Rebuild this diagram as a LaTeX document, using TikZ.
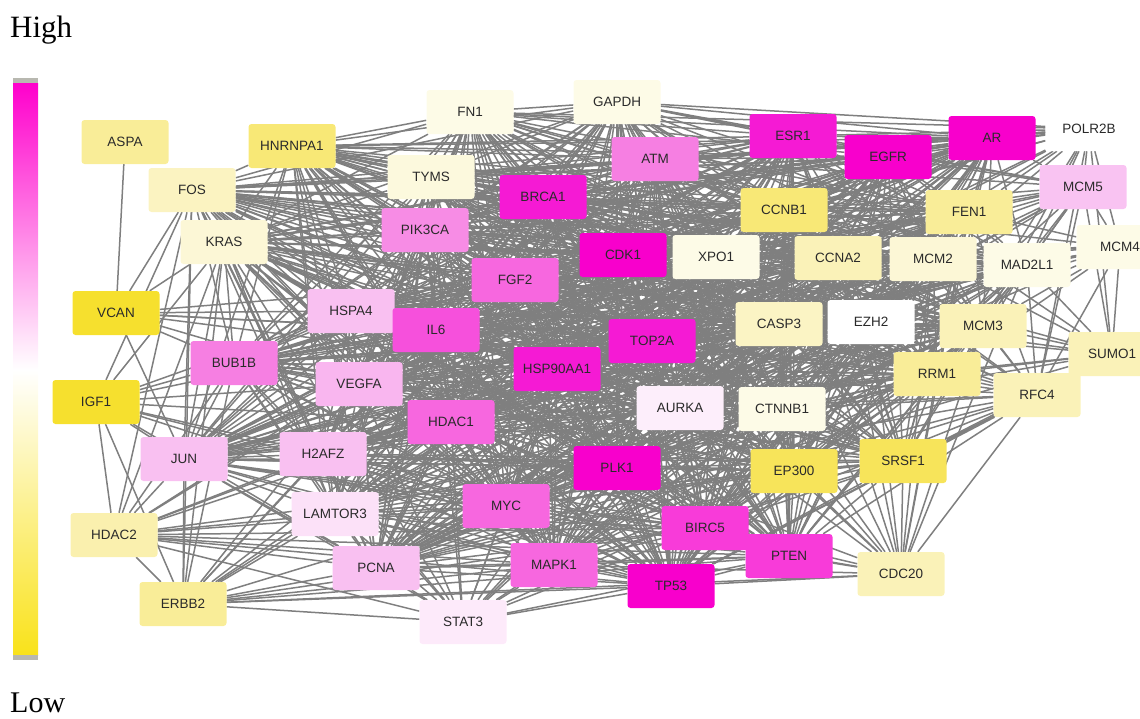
\documentclass[tikz,border=0pt]{standalone}
\usepackage{fontspec}
\setmainfont{Liberation Serif}
\newfontfamily\nf{Liberation Sans}
\usetikzlibrary{backgrounds}
\definecolor{edgec}{HTML}{7F7F7F}
\definecolor{txt}{HTML}{2A2A2A}
\definecolor{m1}{HTML}{F800CC}
\definecolor{m2}{HTML}{F51AD4}
\definecolor{m3}{HTML}{F83BD9}
\definecolor{m4}{HTML}{F650DC}
\definecolor{m5}{HTML}{F767DF}
\definecolor{m6}{HTML}{F67FE2}
\definecolor{p1}{HTML}{F9C0F1}
\definecolor{p2}{HTML}{FCE1F8}
\definecolor{p3}{HTML}{FDEEFB}
\definecolor{w0}{HTML}{FFFFFF}
\definecolor{v1}{HTML}{FDFBE7}
\definecolor{v2}{HTML}{FCF7D6}
\definecolor{y1}{HTML}{FAF2B8}
\definecolor{y2}{HTML}{F9ED98}
\definecolor{y3}{HTML}{F8E876}
\definecolor{y4}{HTML}{F7E45A}
\definecolor{y5}{HTML}{F6E02E}
\definecolor{cbmag}{HTML}{FF00CC}
\definecolor{cbyel}{HTML}{F9E21A}
\definecolor{cbcap}{HTML}{B8B8B0}
\begin{document}
\begin{tikzpicture}[x=1pt,y=-1pt,
  gn/.style={rounded corners=3pt, minimum width=87pt, minimum height=44pt, inner sep=0pt,
    text=txt, font=\nf\fontsize{13.5}{14}\selectfont},
  edge/.style={draw=edgec, line width=1.5pt}]
\useasboundingbox (0,0) rectangle (1140,718);
% labels and colour bar
\node[anchor=base west, inner sep=0pt, font=\fontsize{31}{31}\selectfont] (high) at (10,37) {High};
\node[anchor=base west, inner sep=0pt, font=\fontsize{30}{30}\selectfont] (low) at (10,712) {Low};
\fill[cbcap] (13,78) rectangle (38,83);
\shade[top color=cbmag, bottom color=white] (13,83) rectangle (38,370);
\shade[top color=white, bottom color=cbyel] (13,370) rectangle (38,655);
\fill[cbcap] (13,655) rectangle (38,660);
% nodes
\node[gn, fill=y2] (ASPA) at (125,142) {ASPA};
\node[gn, fill=y3] (HNRNPA1) at (292,146) {HNRNPA1};
\node[gn, fill=y1!70!v2] (FOS) at (192,190) {FOS};
\node[gn, fill=v1] (FN1) at (470,112) {FN1};
\node[gn, fill=v1] (GAPDH) at (617,102) {GAPDH};
\node[gn, fill=v2!60!v1] (TYMS) at (431,177) {TYMS};
\node[gn, fill=m6] (ATM) at (655,159) {ATM};
\node[gn, fill=m2] (ESR1) at (793,136) {ESR1};
\node[gn, fill=m1] (EGFR) at (888,157) {EGFR};
\node[gn, fill=m1] (AR) at (992,138) {AR};
\node[gn, fill=w0] (POLR2B) at (1089,129) {POLR2B};
\node[gn, fill=p1!90!p2] (MCM5) at (1083,187) {MCM5};
\node[gn, fill=m2] (BRCA1) at (543,197) {BRCA1};
\node[gn, fill=m6!80!p1] (PIK3CA) at (425,230) {PIK3CA};
\node[gn, fill=v2] (KRAS) at (224,242) {KRAS};
\node[gn, fill=y3] (CCNB1) at (784,210) {CCNB1};
\node[gn, fill=y2] (FEN1) at (969,212) {FEN1};
\node[gn, fill=m1] (CDK1) at (623,255) {CDK1};
\node[gn, fill=v1] (XPO1) at (716,257) {XPO1};
\node[gn, fill=y1] (CCNA2) at (838,258) {CCNA2};
\node[gn, fill=v2] (MCM2) at (933,259) {MCM2};
\node[gn, fill=v1] (MAD2L1) at (1027,265) {MAD2L1};
\node[gn, fill=v1] (MCM4) at (1120,247) {MCM4};
\node[gn, fill=m5] (FGF2) at (515,280) {FGF2};
\node[gn, fill=y5] (VCAN) at (116,313) {VCAN};
\node[gn, fill=p1] (HSPA4) at (351,311) {HSPA4};
\node[gn, fill=m4] (IL6) at (436,330) {IL6};
\node[gn, fill=m2] (TOP2A) at (652,341) {TOP2A};
\node[gn, fill=y1!60!v2] (CASP3) at (779,324) {CASP3};
\node[gn, fill=w0] (EZH2) at (871,322) {EZH2};
\node[gn, fill=y1] (MCM3) at (983,326) {MCM3};
\node[gn, fill=y1] (SUMO1) at (1112,354) {SUMO1};
\node[gn, fill=m6] (BUB1B) at (234,363) {BUB1B};
\node[gn, fill=p1!85!m6] (VEGFA) at (359,384) {VEGFA};
\node[gn, fill=m2] (HSP90AA1) at (557,369) {HSP90AA1};
\node[gn, fill=y2] (RRM1) at (937,374) {RRM1};
\node[gn, fill=y1] (RFC4) at (1037,395) {RFC4};
\node[gn, fill=y5] (IGF1) at (96,402) {IGF1};
\node[gn, fill=p3] (AURKA) at (680,408) {AURKA};
\node[gn, fill=v1] (CTNNB1) at (782,409) {CTNNB1};
\node[gn, fill=m5] (HDAC1) at (451,422) {HDAC1};
\node[gn, fill=p1] (JUN) at (184,459) {JUN};
\node[gn, fill=p1] (H2AFZ) at (323,454) {H2AFZ};
\node[gn, fill=m1] (PLK1) at (617,468) {PLK1};
\node[gn, fill=y4] (EP300) at (794,471) {EP300};
\node[gn, fill=y4] (SRSF1) at (903,461) {SRSF1};
\node[gn, fill=m5] (MYC) at (506,506) {MYC};
\node[gn, fill=p2] (LAMTOR3) at (335,514) {LAMTOR3};
\node[gn, fill=y1!70!y2] (HDAC2) at (114,535) {HDAC2};
\node[gn, fill=m3] (BIRC5) at (705,528) {BIRC5};
\node[gn, fill=p1] (PCNA) at (376,568) {PCNA};
\node[gn, fill=m5] (MAPK1) at (554,565) {MAPK1};
\node[gn, fill=m3] (PTEN) at (789,556) {PTEN};
\node[gn, fill=y1] (CDC20) at (901,574) {CDC20};
\node[gn, fill=m1] (TP53) at (671,586) {TP53};
\node[gn, fill=y2] (ERBB2) at (183,604) {ERBB2};
\node[gn, fill=p3!70!p2] (STAT3) at (463,622) {STAT3};
% edges
\def\corelist{FN1,GAPDH,TYMS,ATM,ESR1,EGFR,AR,BRCA1,PIK3CA,CCNB1,FEN1,CDK1,XPO1,CCNA2,MCM2,MAD2L1,FGF2,HSPA4,IL6,TOP2A,CASP3,EZH2,MCM3,BUB1B,VEGFA,HSP90AA1,RRM1,AURKA,CTNNB1,HDAC1,H2AFZ,PLK1,EP300,SRSF1,MYC,LAMTOR3,BIRC5,PCNA,MAPK1,PTEN,TP53,KRAS,FOS,HNRNPA1,JUN}
\begin{pgfonlayer}{background}
\foreach \a [count=\i] in \corelist {
  \foreach \b [count=\j] in \corelist {
    \ifnum\j>\i \draw[edge] (\a) -- (\b); \fi
  }
}
\draw[edge] (ASPA) -- (VCAN);
\foreach \b in {FOS,KRAS,HSPA4,BUB1B,IL6,TOP2A,VEGFA,HSP90AA1,JUN,FGF2}
  \draw[edge] (VCAN) -- (\b);
\foreach \b in {FOS,KRAS,JUN,HDAC2,ERBB2,VEGFA,HDAC1,IL6,TP53,MYC,PCNA,BUB1B,H2AFZ,HSPA4}
  \draw[edge] (IGF1) -- (\b);
\foreach \b in {JUN,H2AFZ,LAMTOR3,PCNA,MYC,MAPK1,TP53,STAT3,HDAC1,IL6,VEGFA,BUB1B,PLK1,BIRC5,PTEN,KRAS,FOS,HSP90AA1,ERBB2}
  \draw[edge] (HDAC2) -- (\b);
\foreach \b in {JUN,KRAS,FOS,LAMTOR3,PCNA,STAT3,MAPK1,TP53,MYC,PTEN,BIRC5,H2AFZ,VEGFA,HDAC1,IL6,EGFR,ESR1,BUB1B,CDC20}
  \draw[edge] (ERBB2) -- (\b);
\foreach \b in {PCNA,MYC,MAPK1,TP53,LAMTOR3,H2AFZ,JUN,HDAC1,IL6,VEGFA,EGFR,ESR1,AR,BIRC5,PTEN,PLK1,HSP90AA1,CTNNB1,EP300,BUB1B,KRAS}
  \draw[edge] (STAT3) -- (\b);
\foreach \b in {FN1,GAPDH,ESR1,AR,EGFR,MCM5,MCM4,MAD2L1,MCM2,MCM3,FEN1,CCNB1,CCNA2,RRM1,SUMO1,RFC4,CDK1,TOP2A,PCNA,ATM,BRCA1,TYMS}
  \draw[edge] (POLR2B) -- (\b);
\foreach \b in {MCM4,MAD2L1,MCM2,MCM3,FEN1,CCNB1,CCNA2,CDK1,PCNA,RFC4,RRM1,SUMO1,TOP2A,PLK1,AURKA,BIRC5,EGFR,AR,GAPDH,ESR1,ATM,XPO1}
  \draw[edge] (MCM5) -- (\b);
\foreach \b in {MCM2,MCM3,MAD2L1,FEN1,RFC4,PCNA,CDK1,CCNB1,SUMO1,RRM1,TOP2A,CCNA2,EZH2,CASP3}
  \draw[edge] (MCM4) -- (\b);
\foreach \b in {MCM3,RRM1,RFC4,TP53,HDAC1,EZH2,CASP3,PCNA,BRCA1,ESR1,CTNNB1,MAD2L1,MCM2,SRSF1}
  \draw[edge] (SUMO1) -- (\b);
\foreach \b in {MCM2,MCM3,FEN1,RRM1,PCNA,SRSF1,EP300,CCNA2,CCNB1,CDK1,PLK1,TOP2A,AURKA,BIRC5,TP53,PTEN,CTNNB1,CASP3,EZH2,MAD2L1,XPO1,HSP90AA1}
  \draw[edge] (RFC4) -- (\b);
\foreach \b in {SRSF1,EP300,RRM1,RFC4,MCM3,PTEN,BIRC5,TP53,PLK1,AURKA,CDK1,CCNB1,CCNA2,MAD2L1,CTNNB1,TOP2A,MAPK1,FEN1,MCM2,EZH2,CASP3,MYC}
  \draw[edge] (CDC20) -- (\b);
\end{pgfonlayer}
\end{tikzpicture}
\end{document}
